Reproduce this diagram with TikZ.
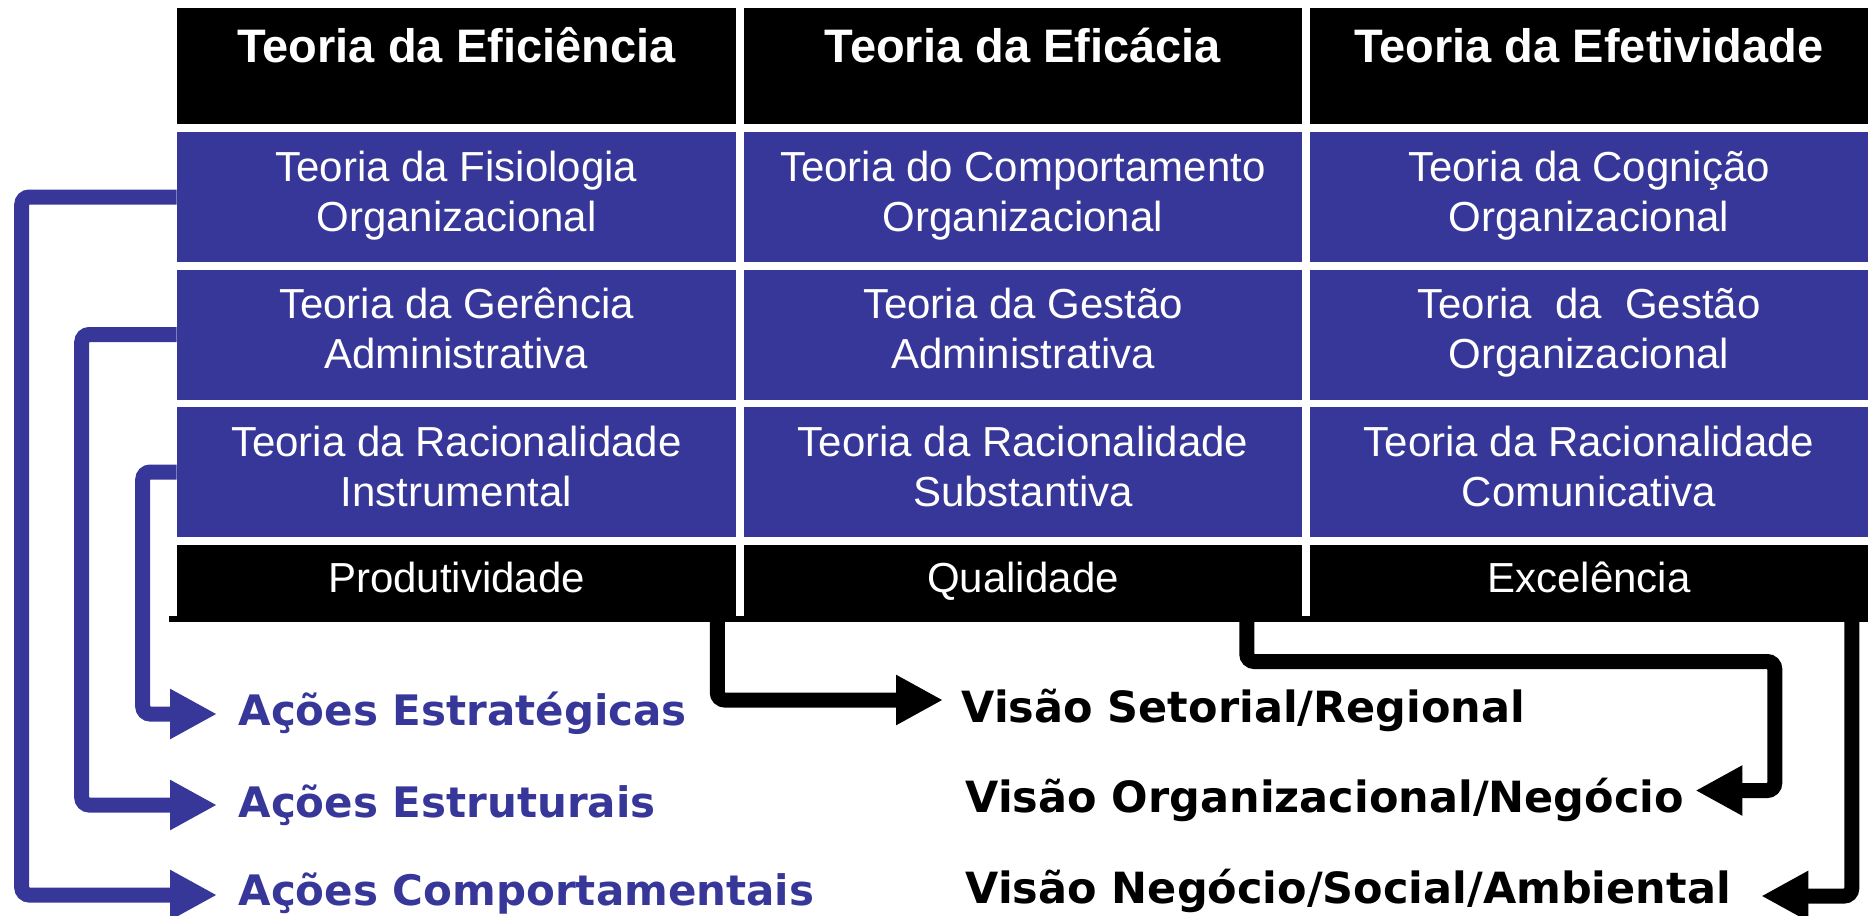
\documentclass[tikz,border=0pt]{standalone}
\usepackage{fontspec}
\setmainfont{Liberation Sans}
\newfontfamily\vfont{DejaVu Sans}
\usetikzlibrary{arrows.meta,calc}
\definecolor{tblue}{HTML}{373699}
\begin{document}
\begin{tikzpicture}[x=0.4pt,y=-0.4pt,
  cell/.style={inner sep=0pt, minimum width=223.4pt, align=center,
    font=\fontsize{16.8pt}{20pt}\selectfont, text=white},
  bluecell/.style={cell, fill=tblue, text height=39.6pt, text depth=12.4pt},
  headcell/.style={cell, fill=black, font=\fontsize{18.8pt}{22pt}\selectfont\bfseries,
    text height=21.6pt, text depth=24.8pt},
  footcell/.style={cell, fill=black, text height=18.8pt, text depth=10pt},
  actlabel/.style={inner sep=0pt, anchor=base west,
    font=\vfont\bfseries\fontsize{16.8pt}{20pt}\selectfont, text=tblue},
  vislabel/.style={inner sep=0pt, anchor=base west,
    font=\vfont\bfseries\fontsize{17.2pt}{20pt}\selectfont, text=black},
  bluearrow/.style={draw=tblue, line width=6pt, rounded corners=3pt,
    -{Triangle[length=18.8pt,width=18.8pt]}},
  blackarrow/.style={bluearrow, draw=black}
]
\useasboundingbox (0,0) rectangle (1868,915);

% header
\node[headcell] (h1) at (456.5,66) {Teoria da Eficiência};
\node[headcell] (h2) at (1023,66) {Teoria da Eficácia};
\node[headcell] (h3) at (1589,66) {Teoria da Efetividade};
% rows
\node[bluecell] (r1c1) at (456.5,197) {Teoria da Fisiologia\\Organizacional};
\node[bluecell] (r1c2) at (1023,197) {Teoria do Comportamento\\Organizacional};
\node[bluecell] (r1c3) at (1589,197) {Teoria da Cognição\\Organizacional};
\node[bluecell] (r2c1) at (456.5,334.5) {Teoria da Gerência\\Administrativa};
\node[bluecell] (r2c2) at (1023,334.5) {Teoria da Gestão\\Administrativa};
\node[bluecell] (r2c3) at (1589,334.5) {Teoria~ da~ Gestão\\Organizacional};
\node[bluecell] (r3c1) at (456.5,472) {Teoria da Racionalidade\\Instrumental};
\node[bluecell] (r3c2) at (1023,472) {Teoria da Racionalidade\\Substantiva};
\node[bluecell] (r3c3) at (1589,472) {Teoria da Racionalidade\\Comunicativa};
\node[footcell] (r4c1) at (456.5,581) {Produtividade};
\node[footcell] (r4c2) at (1023,581) {Qualidade};
\node[footcell] (r4c3) at (1589,581) {Excelência};
\fill[black] (169,616) rectangle (1868,622);

% labels
\node[actlabel] (a1) at (238,725) {Ações Estratégicas};
\node[actlabel] (a2) at (238,817) {Ações Estruturais};
\node[actlabel] (a3) at (238,905) {Ações Comportamentais};
\node[vislabel] (v1) at (961,722) {Visão Setorial/Regional};
\node[vislabel] (v2) at (965,812) {Visão Organizacional/Negócio};
\node[vislabel] (v3) at (965,903) {Visão Negócio/Social/Ambiental};

% blue connectors
\draw[bluearrow] (r1c1.west) -- ++(-155,0) |- ($(a3.base west)+(-21,-10)$);
\draw[bluearrow] (r2c1.west) -- ++(-95,0) |- ($(a2.base west)+(-21,-12)$);
\draw[bluearrow] (r3c1.west) -- ++(-34,0) |- ($(a1.base west)+(-21,-11)$);

% black connectors
\draw[blackarrow] ($(r4c1.south east)+(-19,0)$) |- ($(v1.base west)+(-18,-22)$);
\draw[blackarrow] ($(r4c2.south east)+(-56,0)$) -- ++(0,44) -- ++(528,0)
   |- ($(v2.base east)+(11,-21.5)$);
\draw[blackarrow] ($(r4c3.south east)+(-17,0)$) |- ($(v3.base east)+(30,-7)$);
\end{tikzpicture}
\end{document}
